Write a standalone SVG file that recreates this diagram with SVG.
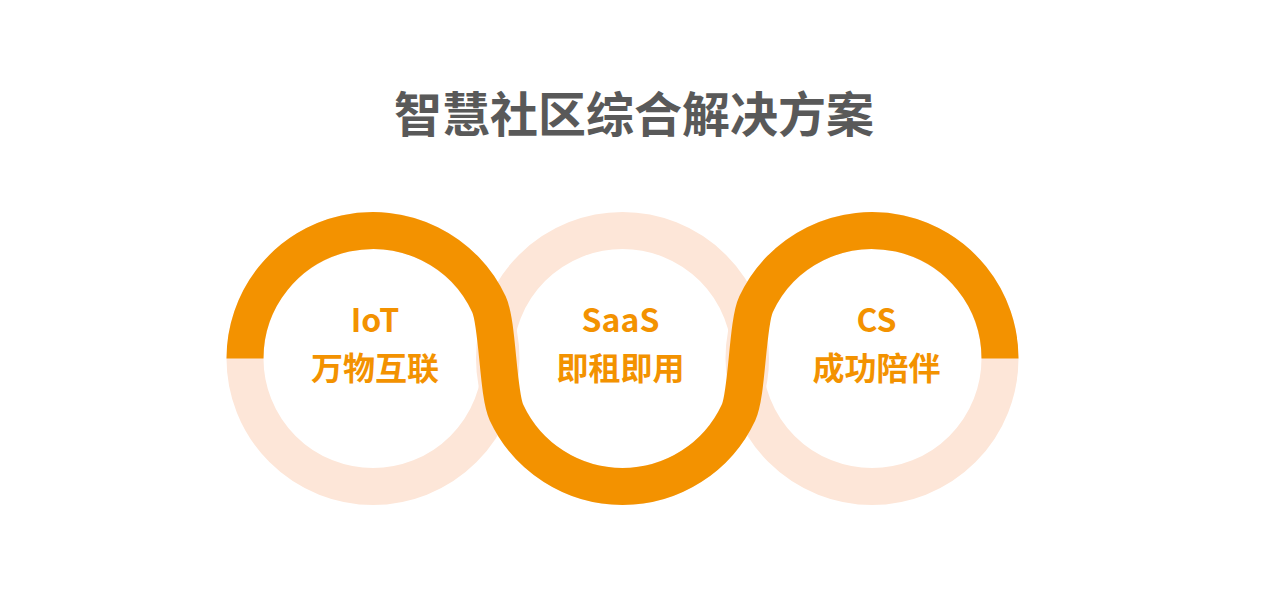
<svg xmlns="http://www.w3.org/2000/svg" width="1269" height="611" viewBox="0 0 1269 611">
<style>
.pale{fill:none;stroke:#FDE6D8;stroke-width:37}
.band{fill:none;stroke:#F39200;stroke-width:37;stroke-linecap:butt}
.lbl{font-family:"Noto Sans CJK SC","Liberation Sans",sans-serif;font-weight:bold;font-size:32px;fill:#F39200;text-anchor:middle}
.title{font-family:"Noto Sans CJK SC","Liberation Sans",sans-serif;font-weight:bold;font-size:48px;fill:#595959;text-anchor:middle}
</style>
<rect width="1269" height="611" fill="#FFFFFF"/>
<text class="title" x="634" y="132">智慧社区综合解决方案</text>
<g id="rings">
<circle class="pale" cx="373" cy="358.5" r="128"/>
<circle class="pale" cx="622.5" cy="358.5" r="128"/>
<circle class="pale" cx="872" cy="358.5" r="128"/>
</g>
<g id="connectors">
<path class="band" d="M 245 358.5 A 128 128 0 0 1 489 304.41 C 497.87 323.44 497.63 393.56 506.5 412.59 A 128 128 0 0 0 738.5 412.59 C 747.37 393.56 747.13 323.44 756 304.41 A 128 128 0 0 1 1000 358.5"/>
</g>
<g id="node-iot">
<text class="lbl" x="375" y="332">IoT</text>
<text class="lbl" x="375" y="380">万物互联</text>
</g>
<g id="node-saas">
<text class="lbl" x="620.5" y="332">SaaS</text>
<text class="lbl" x="620.5" y="380">即租即用</text>
</g>
<g id="node-cs">
<text class="lbl" x="876.5" y="332">CS</text>
<text class="lbl" x="876.5" y="380">成功陪伴</text>
</g>
</svg>
